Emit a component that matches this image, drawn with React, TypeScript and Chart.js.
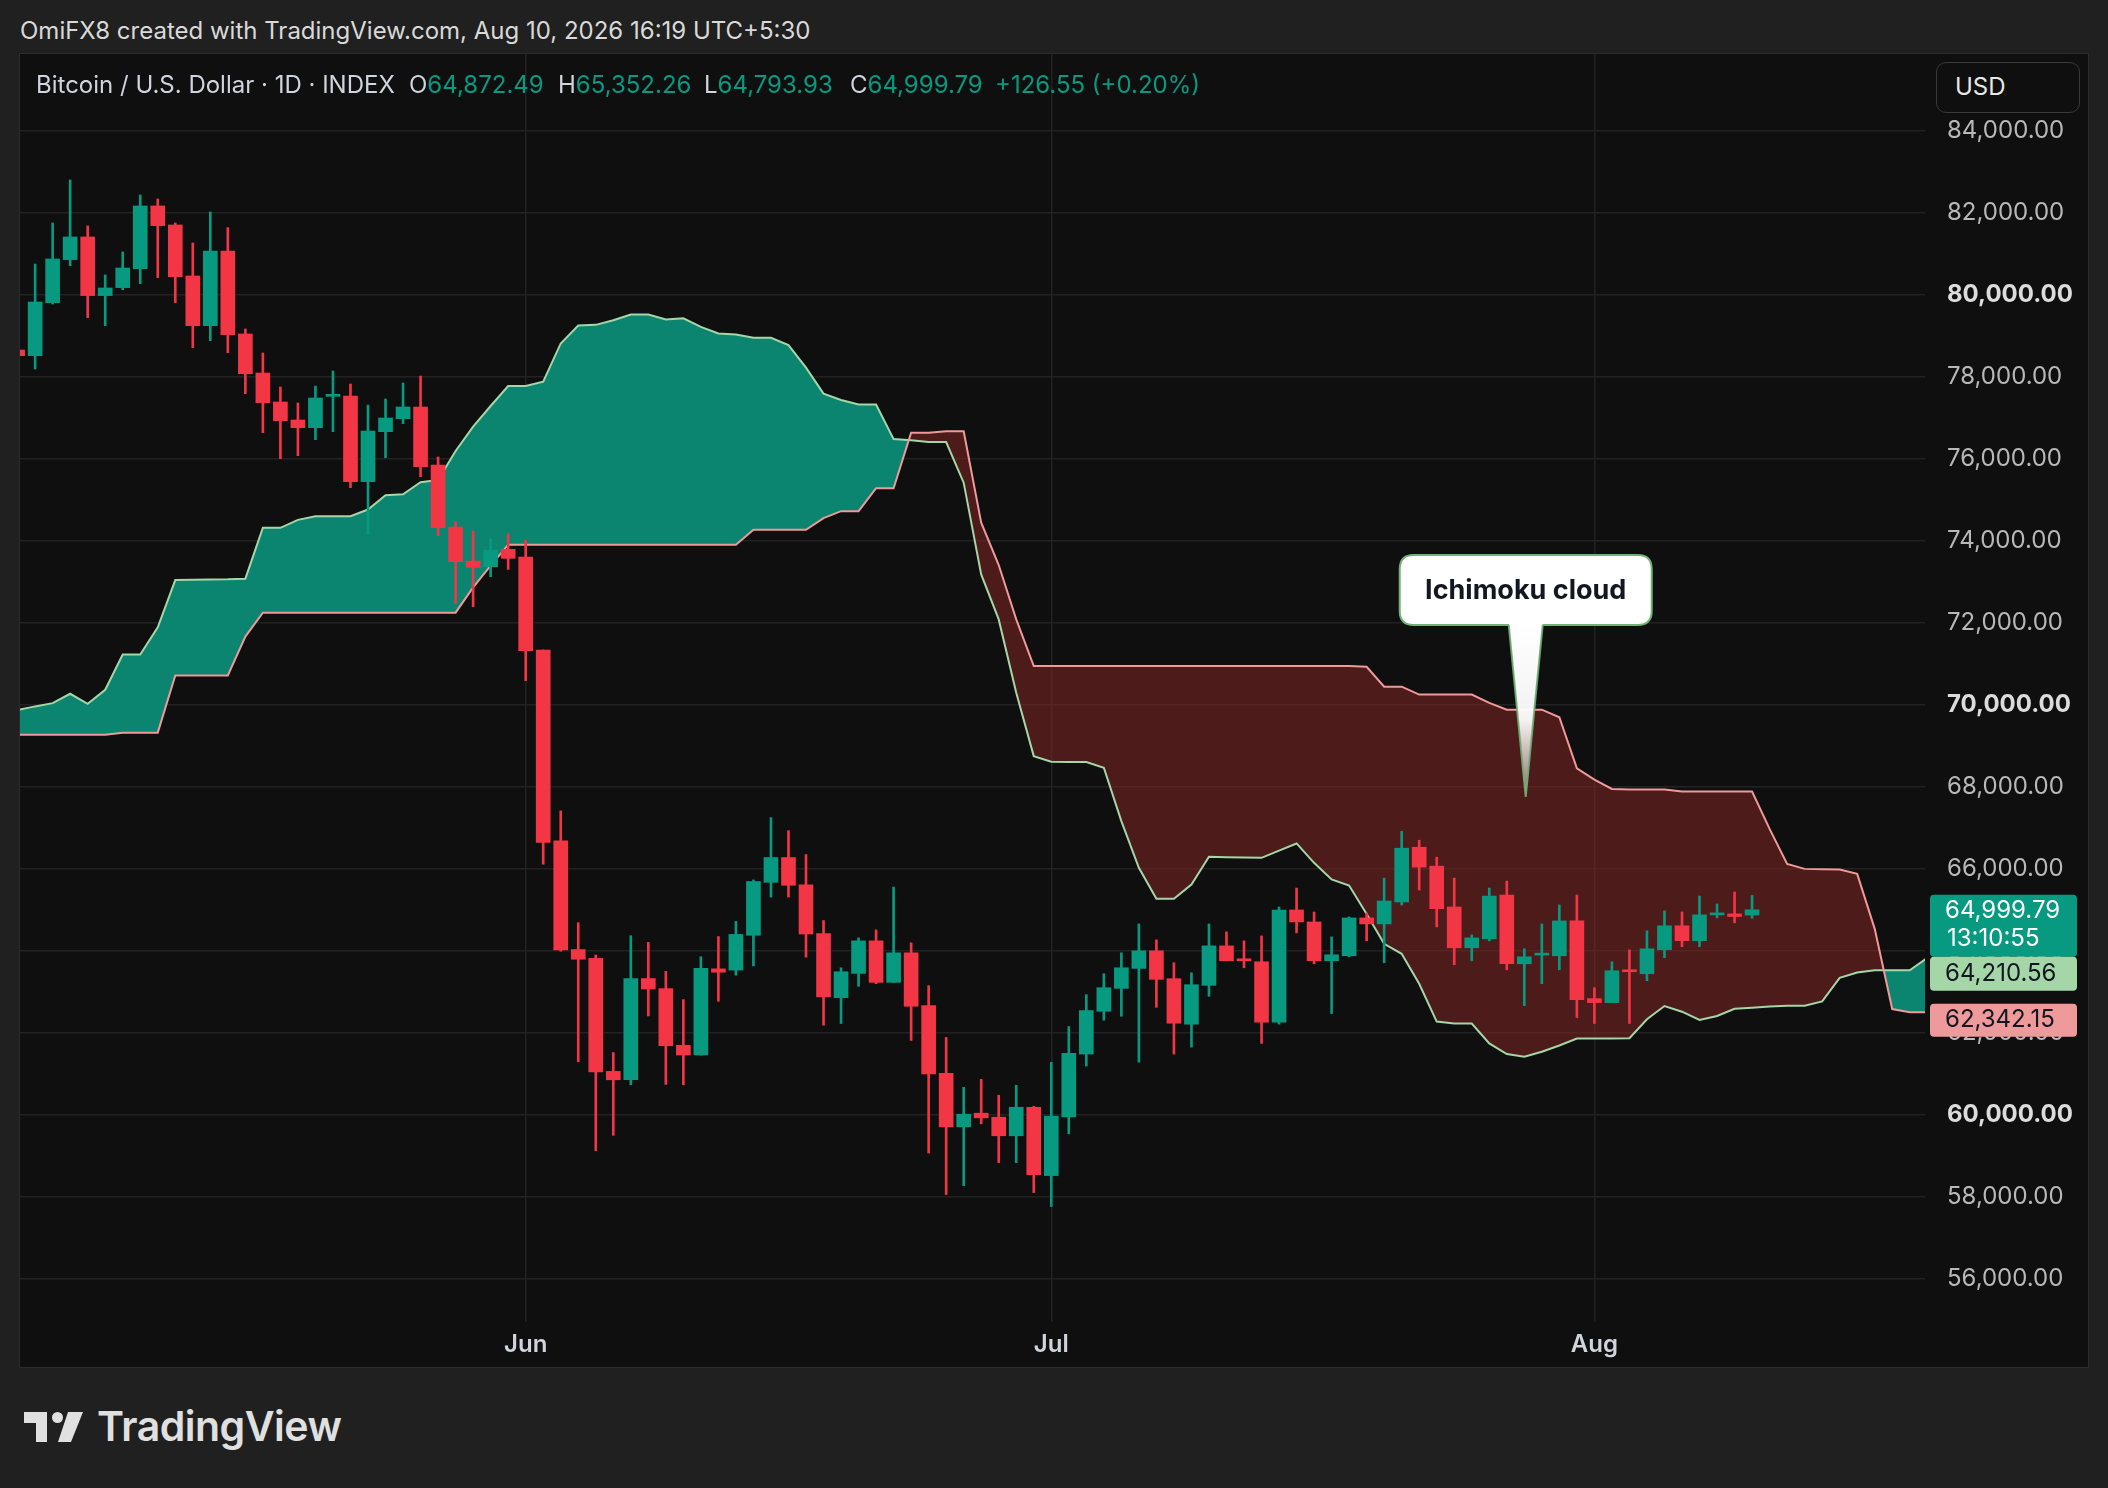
import React, { useEffect, useRef } from 'react';
import { Chart, registerables } from 'chart.js';

Chart.register(...registerables);

// ---- Data (index 0 = May 3, one candle per day) ----
const opens = [
  78650, 78512, 79805, 80854, 81407, 79976, 80171, 80634, 82163, 81699,
  80455, 79244, 81065, 79041, 78089, 77382, 76943, 76756, 77520, 77528,
  75439, 76659, 76976, 77260, 75846, 74333, 73504, 73366, 73790, 73600,
  71336, 66684, 64031, 63816, 61060, 60855, 63324, 63078, 61695, 61459,
  63560, 63529, 64379, 65670, 66275, 65609, 64420, 62858, 63449, 64243,
  63231, 63951, 62664, 61012, 59709, 60040, 59943, 59490, 60186, 58518,
  59951, 61482, 62526, 63085, 63571, 64000, 63320, 62211, 63158, 64121,
  63806, 63733, 62259, 64996, 64704, 63757, 63879, 64802, 64656, 65190,
  66526, 66065, 65069, 64073, 64291, 65360, 63684, 63895, 63879, 64729,
  62834, 62737, 63538, 63441, 64027, 64610, 64246, 64876, 64900, 64872.49,
];
const highs = [
  78700, 80748, 81748, 82797, 81675, 80480, 81041, 82431, 82333, 81748,
  81260, 82016, 81634, 79163, 78577, 77748, 77358, 77772, 78138, 77821,
  77309, 77455, 77845, 78016, 76041, 74463, 74236, 74041, 74170, 74010,
  71336, 67412, 64686, 63898, 61520, 64369, 64205, 63498, 62811, 63857,
  64348, 64717, 65730, 67248, 66930, 66346, 64738, 63587, 64316, 64510,
  65555, 64194, 63150, 61887, 60672, 60866, 60478, 60721, 60210, 61279,
  62154, 62931, 63441, 63951, 64656, 64267, 63709, 63466, 64656, 64462,
  64243, 64364, 65069, 65530, 64947, 64340, 64826, 64923, 65773, 66915,
  66696, 66283, 65773, 64389, 65530, 65700, 64049, 64656, 65117, 65360,
  63101, 63733, 64024, 64486, 64973, 64949, 65337, 65143, 65434, 65352.26,
];
const lows = [
  78400, 78187, 79772, 80707, 79439, 79244, 80122, 80268, 80415, 79805,
  78707, 78878, 78585, 77585, 76634, 76000, 76073, 76463, 76659, 75293,
  74154, 76024, 76854, 75561, 74122, 72472, 72390, 73122, 73300, 70588,
  66111, 63990, 61295, 59123, 59502, 60732, 62412, 60742, 60732, 61459,
  62770, 63406, 63631, 65311, 65311, 63846, 62187, 62227, 63134, 63198,
  63231, 61814, 59069, 58057, 58275, 59781, 58834, 58834, 58105, 57765,
  59538, 61190, 62308, 62405, 61287, 62623, 61482, 61652, 62891, 63757,
  63587, 61741, 62211, 64437, 63684, 62470, 63854, 64243, 63709, 65117,
  65482, 64583, 63660, 63757, 64243, 63538, 62664, 63198, 63538, 62372,
  62227, 62737, 62227, 63271, 63833, 64100, 64100, 64804, 64682, 64793.93,
];
const closes = [
  78512, 79821, 80870, 81407, 79976, 80163, 80650, 82163, 81683, 80439,
  79244, 81065, 79024, 78073, 77366, 76927, 76756, 77480, 77545, 75439,
  76675, 76992, 77260, 75805, 74317, 73488, 73350, 73772, 73570, 71316,
  66643, 64020, 63795, 61049, 60855, 63324, 63068, 61685, 61459, 63570,
  63478, 64400, 65690, 66275, 65598, 64410, 62873, 63490, 64243, 63231,
  63951, 62648, 60996, 59709, 60016, 59927, 59490, 60186, 58543, 59968,
  61498, 62543, 63101, 63587, 64000, 63304, 62235, 63174, 64121, 63757,
  63757, 62259, 64996, 64704, 63757, 63903, 64802, 64656, 65215, 66502,
  66040, 65028, 64073, 64316, 65336, 63684, 63854, 63927, 64729, 62810,
  62737, 63514, 63490, 64049, 64610, 64246, 64876, 64925, 64836, 64999.79,
];
// Ichimoku leading spans (already displaced), index 0 = May 3
const spanA = [
  69870, 69960, 70040, 70268, 70024, 70365, 71225, 71225, 71890, 73041,
  73050, 73055, 73058, 73074, 74315, 74315, 74509, 74598, 74598, 74598,
  74760, 75109, 75134, 75426, 75480, 76188, 76780, 77285, 77772, 77773,
  77878, 78810, 79247, 79263, 79377, 79514, 79514, 79393, 79425, 79215,
  79053, 79028, 78947, 78947, 78769, 78219, 77587, 77433, 77320, 77320,
  76478, 76447, 76407, 76407, 75415, 73179, 72081, 70293, 68748, 68610,
  68605, 68602, 68463, 67163, 66024, 65268, 65268, 65618, 66293, 66280,
  66275, 66268, 66443, 66618, 66146, 65740, 65593, 64900, 64170, 63927,
  63198, 62275, 62227, 62227, 61741, 61482, 61417, 61538, 61692, 61862,
  61862, 61862, 61869, 62330, 62653, 62516, 62314, 62410, 62588, 62613,
  62640, 62661, 62661, 62766, 63340, 63470, 63526, 63526, 63526, 63825, 64100,
];
const spanB = [
  69271, 69271, 69271, 69271, 69271, 69271, 69320, 69320, 69320, 70713,
  70713, 70713, 70713, 71662, 72246, 72246, 72246, 72246, 72246, 72246,
  72246, 72246, 72246, 72246, 72246, 72246, 72862, 73390, 73900, 73900,
  73900, 73900, 73900, 73900, 73900, 73900, 73900, 73900, 73900, 73900,
  73900, 73900, 74267, 74267, 74267, 74267, 74551, 74721, 74721, 75280,
  75280, 76634, 76634, 76667, 76667, 74439, 73407, 72081, 70943, 70943,
  70943, 70943, 70943, 70943, 70943, 70943, 70943, 70943, 70943, 70943,
  70943, 70943, 70943, 70943, 70943, 70943, 70943, 70927, 70442, 70442,
  70247, 70247, 70247, 70247, 70044, 69881, 69881, 69881, 69695, 68452,
  68176, 67948, 67932, 67932, 67932, 67883, 67883, 67883, 67883, 67883,
  66973, 66120, 65998, 65990, 65982, 65877, 64536, 62580, 62500, 62500, 62500,
];
const priceTicks = [
  56000, 58000, 60000, 62000, 64000, 66000, 68000, 70000,
  72000, 74000, 76000, 78000, 80000, 82000, 84000,
];
const monthTickIndex = [29, 59, 90];
const monthTickLabels = ['Jun', 'Jul', 'Aug'];

const lastClose = 64999.79;
const countdownText = '13:10:55';
const leadAText = '64,210.56';
const leadBValue = 62342.15;
const calloutIndex = 86.08;
const calloutPrice = 67750;
const calloutText = 'Ichimoku cloud';

// ---- Style ----
const UP = '#089981';
const DOWN = '#f23645';
const FONT = 'Inter, "Noto Sans", sans-serif';

const fmt = (v: number) =>
  v.toLocaleString('en-US', { minimumFractionDigits: 2, maximumFractionDigits: 2 });

function roundRect(ctx: CanvasRenderingContext2D, x: number, y: number, w: number, h: number, r: number) {
  ctx.beginPath();
  ctx.moveTo(x + r, y);
  ctx.lineTo(x + w - r, y);
  ctx.quadraticCurveTo(x + w, y, x + w, y + r);
  ctx.lineTo(x + w, y + h - r);
  ctx.quadraticCurveTo(x + w, y + h, x + w - r, y + h);
  ctx.lineTo(x + r, y + h);
  ctx.quadraticCurveTo(x, y + h, x, y + h - r);
  ctx.lineTo(x, y + r);
  ctx.quadraticCurveTo(x, y, x + r, y);
  ctx.closePath();
}

const overlayPlugin = {
  id: 'overlay',
  afterDatasetsDraw(chart: any) {
    const { ctx, scales } = chart;
    const x = scales.x, y = scales.y;
    const tx = x.getPixelForValue(calloutIndex);
    const ty = y.getPixelForValue(calloutPrice);
    const bw = 252, bh = 70, gap = 172;
    const bx = tx - bw / 2, by = ty - gap - bh;
    ctx.save();
    roundRect(ctx, bx, by, bw, bh, 14);
    ctx.fillStyle = '#ffffff';
    ctx.fill();
    ctx.strokeStyle = '#72b076';
    ctx.lineWidth = 2;
    ctx.stroke();
    const grad = ctx.createLinearGradient(0, by + bh, 0, ty);
    grad.addColorStop(0, '#ffffff');
    grad.addColorStop(0.55, 'rgba(255,255,255,0.95)');
    grad.addColorStop(1, 'rgba(255,255,255,0.35)');
    ctx.beginPath();
    ctx.moveTo(tx - 17, by + bh - 3);
    ctx.lineTo(tx, ty);
    ctx.lineTo(tx + 17, by + bh - 3);
    ctx.closePath();
    ctx.fillStyle = grad;
    ctx.fill();
    ctx.beginPath();
    ctx.moveTo(tx - 17, by + bh);
    ctx.lineTo(tx, ty);
    ctx.lineTo(tx + 17, by + bh);
    ctx.strokeStyle = 'rgba(114,176,118,0.9)';
    ctx.lineWidth = 2;
    ctx.stroke();
    ctx.fillStyle = '#131722';
    ctx.font = `700 27px ${FONT}`;
    ctx.textAlign = 'center';
    ctx.textBaseline = 'middle';
    ctx.fillText(calloutText, tx, by + bh / 2 + 1);
    ctx.restore();
  },
  afterDraw(chart: any) {
    const { ctx, scales } = chart;
    const x = scales.x, y = scales.y;
    const lx = x.right + 5, lw = 147;
    const yC = y.getPixelForValue(lastClose);
    const yB = y.getPixelForValue(leadBValue);
    ctx.save();
    ctx.textAlign = 'left';
    ctx.textBaseline = 'middle';
    ctx.font = `400 24px ${FONT}`;
    roundRect(ctx, lx, yC - 15, lw, 62, 4);
    ctx.fillStyle = UP;
    ctx.fill();
    ctx.fillStyle = '#ffffff';
    ctx.fillText(fmt(lastClose), lx + 15, yC + 1);
    ctx.fillText(countdownText, lx + 17, yC + 29);
    roundRect(ctx, lx, yC + 47, lw, 34, 4);
    ctx.fillStyle = '#a5d6a7';
    ctx.fill();
    ctx.fillStyle = '#131722';
    ctx.fillText(leadAText, lx + 15, yC + 64);
    roundRect(ctx, lx, yB - 15, lw, 33, 4);
    ctx.fillStyle = '#ef9a9a';
    ctx.fill();
    ctx.fillStyle = '#131722';
    ctx.fillText(fmt(leadBValue), lx + 15, yB + 1);
    ctx.restore();
  },
};

export default function App() {
  const canvasRef = useRef<HTMLCanvasElement | null>(null);

  useEffect(() => {
    document.body.style.margin = '0';
    document.body.style.background = '#202020';
    const canvas = canvasRef.current;
    if (!canvas) return;
    const idx = opens.map((_, i) => i);
    const colors = idx.map((i) => (closes[i] >= opens[i] ? UP : DOWN));
    const chart = new Chart(canvas, {
      type: 'bar',
      data: {
        datasets: [
          {
            type: 'line',
            label: 'Leading Span A',
            data: spanA.map((v, i) => ({ x: i, y: v })),
            borderColor: '#a5d6a7',
            borderWidth: 2,
            pointRadius: 0,
            tension: 0,
            fill: { target: 1, above: '#0b8470', below: 'rgba(130,38,36,0.55)' },
            order: 5,
          } as any,
          {
            type: 'line',
            label: 'Leading Span B',
            data: spanB.map((v, i) => ({ x: i, y: v })),
            borderColor: '#ef9a9a',
            borderWidth: 2,
            pointRadius: 0,
            tension: 0,
            fill: false,
            order: 4,
          } as any,
          {
            type: 'bar',
            label: 'wick',
            data: idx.map((i) => ({ x: i, y: [lows[i], highs[i]] })),
            backgroundColor: colors,
            barThickness: 2,
            grouped: false,
            order: 2,
          } as any,
          {
            type: 'bar',
            label: 'body',
            data: idx.map((i) => ({ x: i, y: [opens[i], closes[i]] })),
            backgroundColor: colors,
            barThickness: 14,
            minBarLength: 2,
            grouped: false,
            order: 1,
          } as any,
        ],
      },
      options: {
        animation: false,
        responsive: false,
        devicePixelRatio: 1,
        events: [],
        layout: { padding: 0 },
        plugins: { legend: { display: false }, tooltip: { enabled: false } },
        scales: {
          x: {
            type: 'linear',
            min: 0.137,
            max: 108.87,
            offset: false,
            afterBuildTicks: (scale: any) => {
              scale.ticks = monthTickIndex.map((v) => ({ value: v }));
            },
            afterFit: (scale: any) => {
              scale.height = 45;
              scale.paddingLeft = 0;
              scale.paddingRight = 0;
            },
            grid: { color: '#222222', lineWidth: 1.5, drawTicks: false, offset: false },
            border: { display: false },
            ticks: {
              autoSkip: false,
              maxRotation: 0,
              padding: 8,
              color: '#d1d4dc',
              font: { family: FONT, size: 24, weight: '600' },
              callback: (_v: any, i: number) => monthTickLabels[i],
            },
          },
          y: {
            type: 'linear',
            position: 'right',
            min: 54949,
            max: 85868,
            afterBuildTicks: (scale: any) => {
              scale.ticks = priceTicks.map((v) => ({ value: v }));
            },
            afterFit: (scale: any) => {
              scale.width = 163;
              scale.paddingTop = 0;
              scale.paddingBottom = 0;
            },
            grid: { color: '#222222', lineWidth: 1.5, drawTicks: false },
            border: { display: false },
            ticks: {
              autoSkip: false,
              padding: 22,
              color: (c: any) => (c.tick && c.tick.value % 10000 === 0 ? '#dcdcdc' : '#b8b8b8'),
              font: (c: any) => ({
                family: FONT,
                size: 24,
                weight: c.tick && c.tick.value % 10000 === 0 ? '700' : '400',
              }),
              callback: (v: any) => fmt(Number(v)),
            },
          },
        },
      } as any,
      plugins: [overlayPlugin],
    });
    return () => chart.destroy();
  }, []);

  const green = { color: '#089981' };
  const hdr: React.CSSProperties = {
    position: 'absolute',
    top: 73,
    fontSize: 24,
    lineHeight: '24px',
    color: '#d1d4dc',
    whiteSpace: 'nowrap',
  };

  return (
    <div
      style={{
        position: 'relative',
        width: 2108,
        height: 1488,
        background: '#202020',
        overflow: 'hidden',
        fontFamily: FONT,
      }}
    >
      <div
        style={{
          position: 'absolute',
          left: 20,
          top: 19,
          fontSize: 24,
          lineHeight: '24px',
          color: '#d9d9d9',
          whiteSpace: 'nowrap',
        }}
      >
        OmiFX8 created with TradingView.com, Aug 10, 2026 16:19 UTC+5:30
      </div>
      <div
        style={{
          position: 'absolute',
          left: 19,
          top: 53,
          width: 2070,
          height: 1315,
          boxSizing: 'border-box',
          border: '1px solid #2c2c2c',
          background: '#0f0f0f',
        }}
      />
      <canvas
        ref={canvasRef}
        width={2068}
        height={1313}
        style={{ position: 'absolute', left: 20, top: 54, width: 2068, height: 1313 }}
      />
      <div style={{ ...hdr, left: 36 }}>Bitcoin / U.S. Dollar · 1D · INDEX</div>
      <div style={{ ...hdr, left: 409 }}>
        O<span style={green}>64,872.49</span>
      </div>
      <div style={{ ...hdr, left: 558 }}>
        H<span style={green}>65,352.26</span>
      </div>
      <div style={{ ...hdr, left: 704 }}>
        L<span style={green}>64,793.93</span>
      </div>
      <div style={{ ...hdr, left: 850 }}>
        C<span style={green}>64,999.79</span>
      </div>
      <div style={{ ...hdr, left: 995, ...green }}>+126.55 (+0.20%)</div>
      <div
        style={{
          position: 'absolute',
          left: 1936,
          top: 62,
          width: 144,
          height: 51,
          boxSizing: 'border-box',
          border: '1.5px solid #3a3a3a',
          borderRadius: 10,
          background: '#0f0f0f',
          color: '#e8e8e8',
          fontSize: 24,
          lineHeight: '48px',
          paddingLeft: 18,
        }}
      >
        USD
      </div>
      <svg
        style={{ position: 'absolute', left: 24, top: 1412 }}
        width={60}
        height={30}
        viewBox="0 0 60 30"
      >
        <rect x={0} y={0} width={23} height={11} fill="#e0e0e0" />
        <rect x={12} y={0} width={11} height={30} fill="#e0e0e0" />
        <circle cx={33.5} cy={5.5} r={5.5} fill="#e0e0e0" />
        <polygon points="44,0 59,0 47,30 34,30" fill="#e0e0e0" />
      </svg>
      <div
        style={{
          position: 'absolute',
          left: 97,
          top: 1406,
          fontSize: 41,
          lineHeight: '41px',
          fontWeight: 600,
          letterSpacing: -0.5,
          color: '#e0e0e0',
          whiteSpace: 'nowrap',
        }}
      >
        TradingView
      </div>
    </div>
  );
}
